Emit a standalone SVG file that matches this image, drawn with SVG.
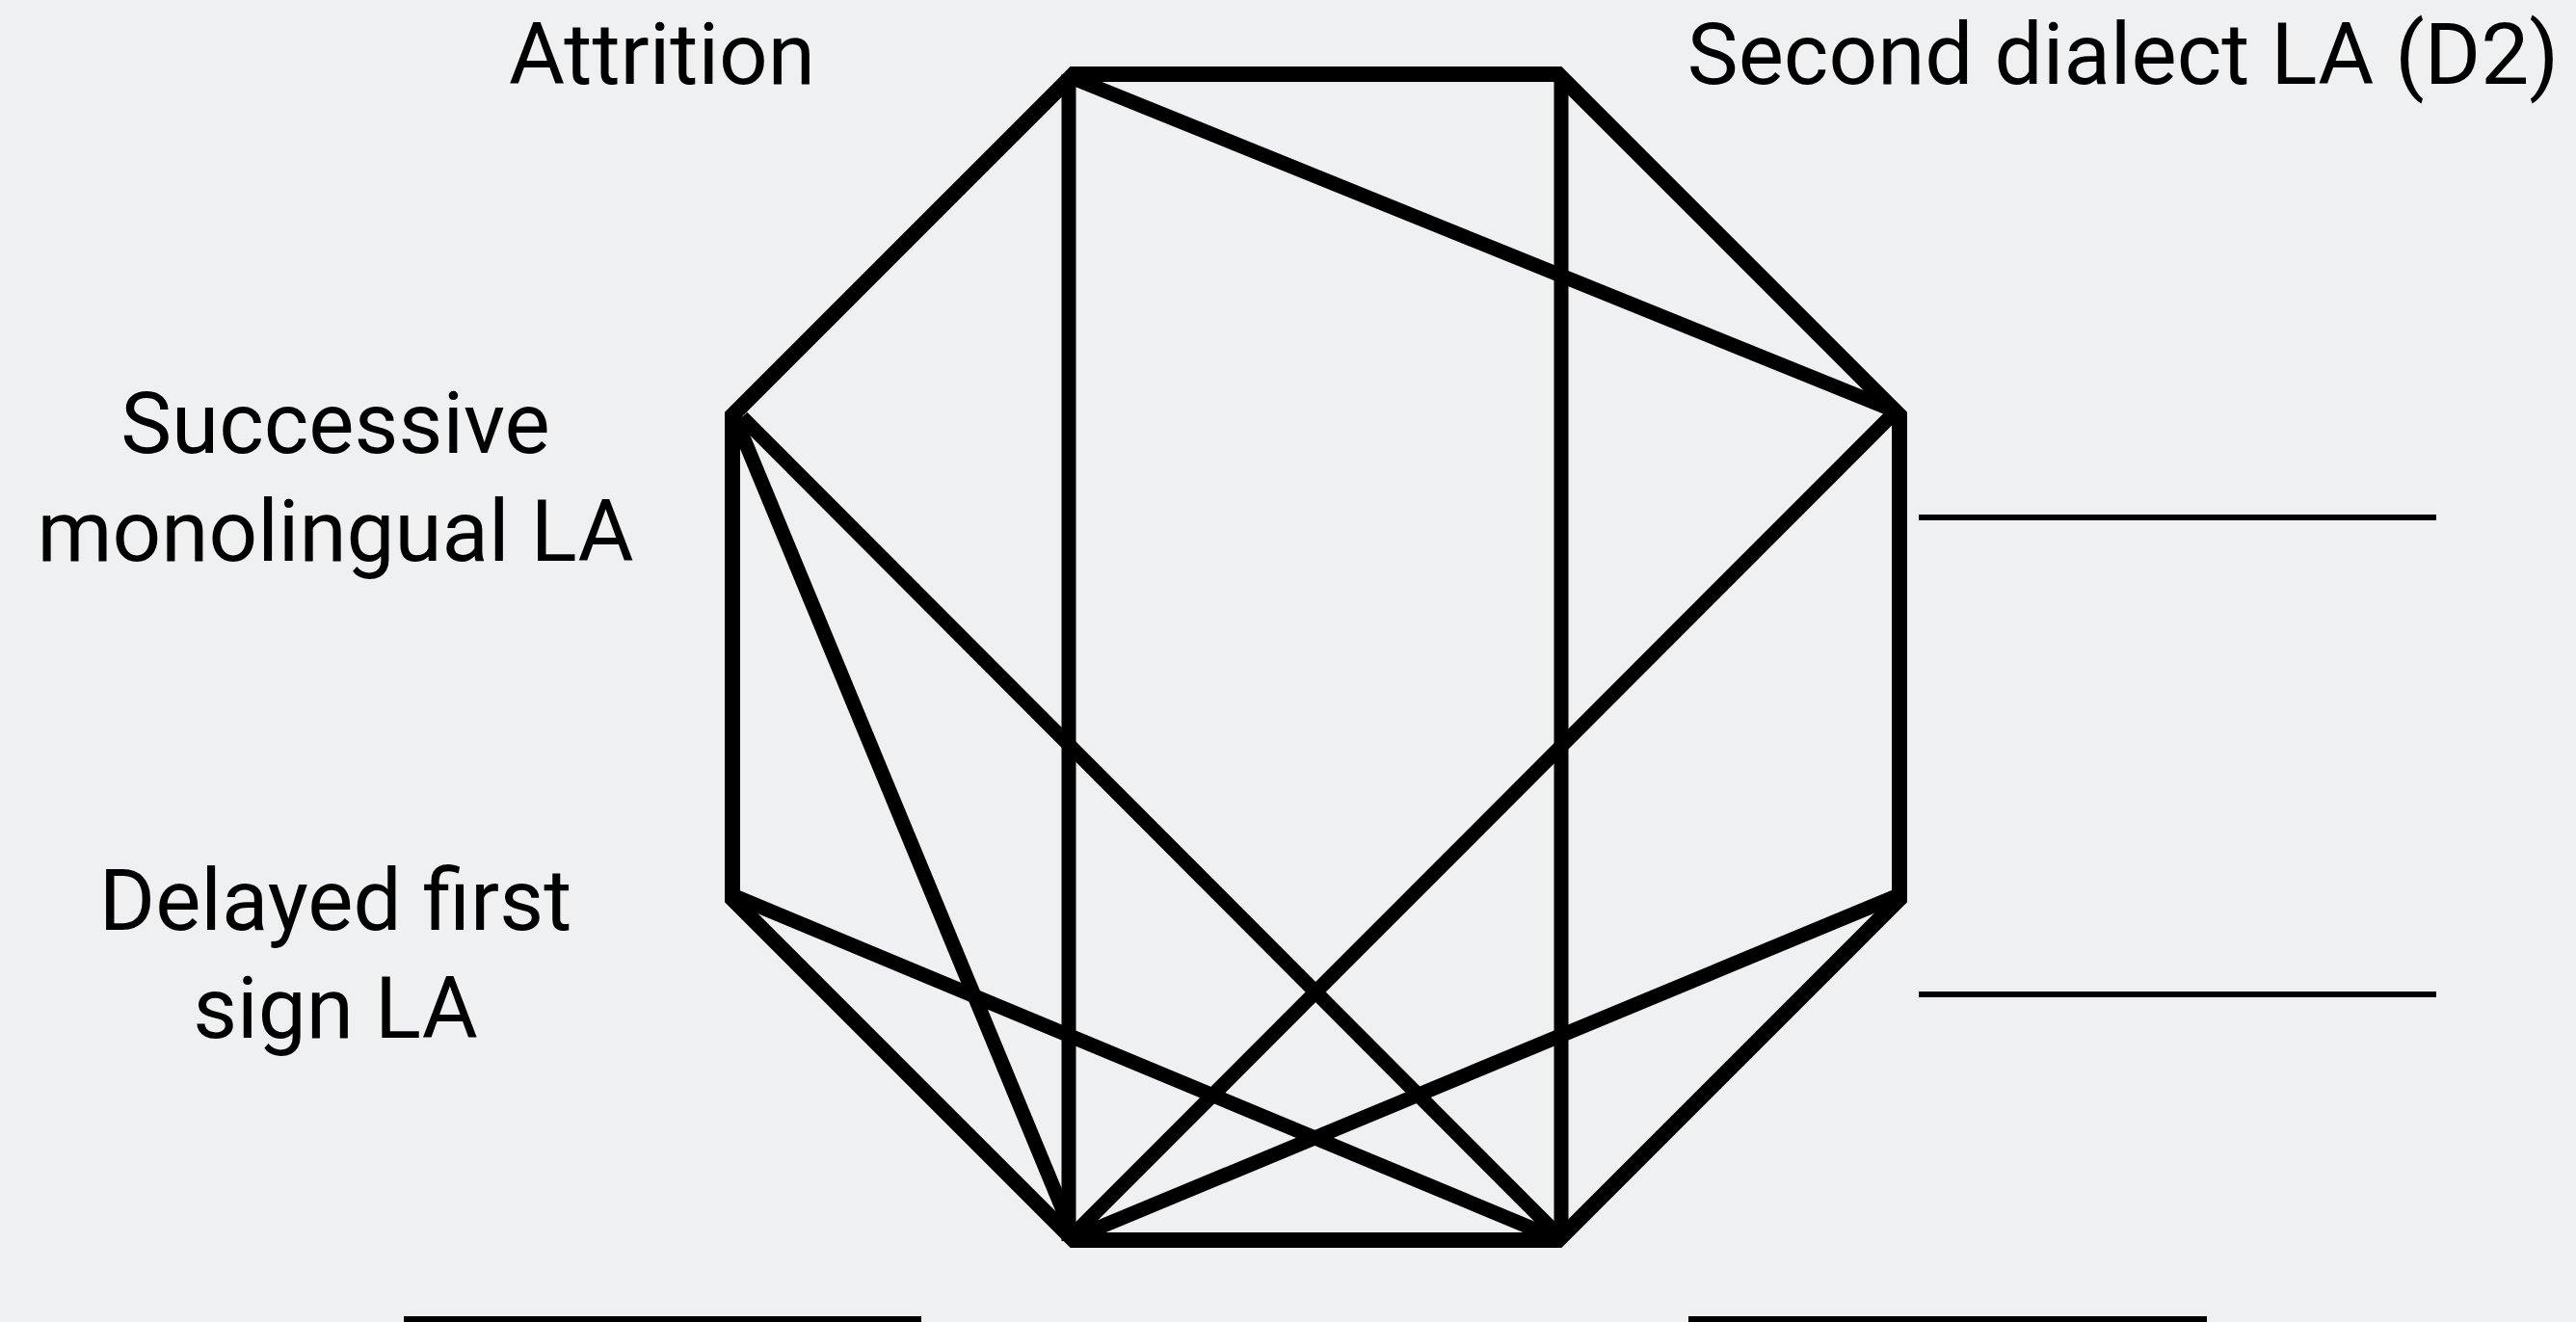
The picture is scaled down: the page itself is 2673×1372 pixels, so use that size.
<svg xmlns="http://www.w3.org/2000/svg" width="2673" height="1372" viewBox="0 0 2673 1372">
<style>
.lbl{font-family:Roboto,"Liberation Sans",Arial,sans-serif;font-size:89px;fill:#000;text-anchor:middle}
.edge{fill:none;stroke:#000;stroke-width:16;stroke-linejoin:miter}
.chord{stroke:#000;stroke-width:15;stroke-linecap:butt}
.blank{fill:#000}
</style>
<rect width="2673" height="1372" fill="#eff0f2"/>
<g id="connectors">
<polygon class="edge" points="1114,77 1617,77 1971,431 1971,933 1617,1287 1114,1287 760,933 760,431"/>
<line class="chord" x1="1109" y1="77" x2="1109" y2="1288"/>
<line class="chord" x1="1620" y1="77" x2="1620" y2="1287"/>
<line class="chord" x1="1111" y1="80" x2="1968" y2="427"/>
<line class="chord" x1="763" y1="434" x2="1115" y2="1285"/>
<line class="chord" x1="770" y1="433" x2="1615" y2="1280"/>
<line class="chord" x1="1966" y1="428" x2="1112" y2="1283"/>
<line class="chord" x1="762" y1="930" x2="1612" y2="1284"/>
<line class="chord" x1="1968" y1="930" x2="1116" y2="1284"/>
</g>
<g id="node-attrition"><text class="lbl" x="687" y="87">Attrition</text></g>
<g id="node-second-dialect"><text class="lbl" x="2203" y="87">Second dialect LA (D2)</text></g>
<g id="node-successive"><text class="lbl" x="348" y="470">Successive</text><text class="lbl" x="348" y="582">monolingual LA</text></g>
<g id="node-delayed"><text class="lbl" x="348" y="965">Delayed first</text><text class="lbl" x="348" y="1077">sign LA</text></g>
<g id="node-blank-right-1"><rect class="blank" x="1991" y="534" width="537" height="6"/></g>
<g id="node-blank-right-2"><rect class="blank" x="1991" y="1029" width="537" height="6"/></g>
<g id="node-blank-bottom-1"><rect class="blank" x="419" y="1366" width="537" height="6"/></g>
<g id="node-blank-bottom-2"><rect class="blank" x="1752" y="1366" width="538" height="6"/></g>
</svg>
